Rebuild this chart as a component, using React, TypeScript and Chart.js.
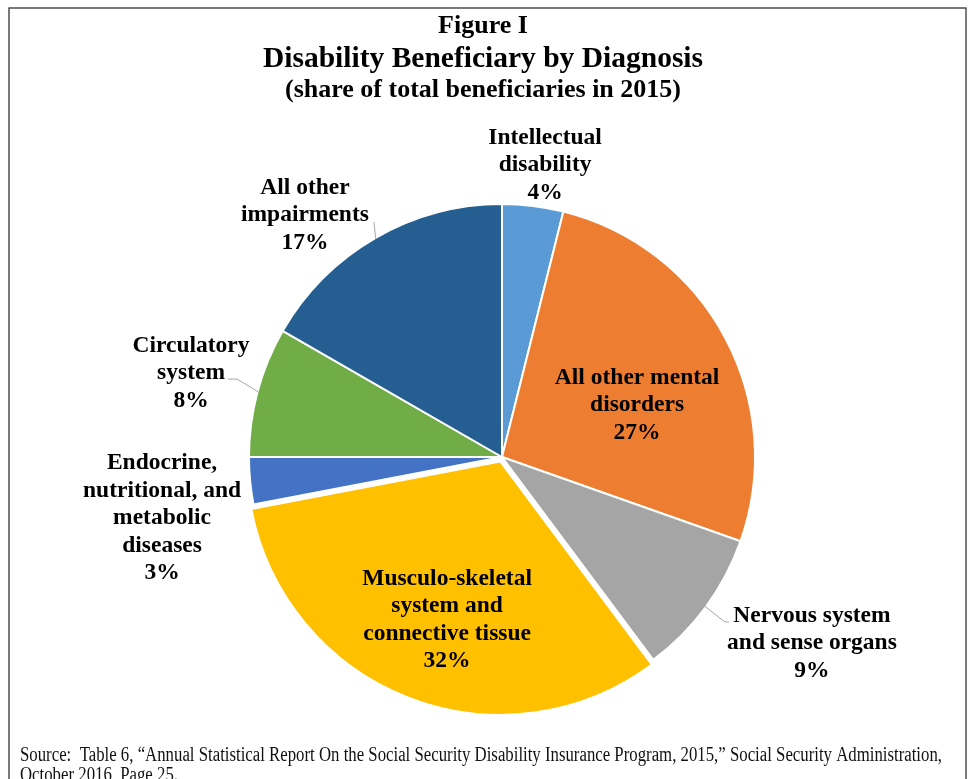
import React, { useEffect, useRef } from "react";
import { Chart, registerables } from "chart.js";

Chart.register(...registerables);

// ---- data ----
const categories = [
  "Intellectual disability",
  "All other mental disorders",
  "Nervous system and sense organs",
  "Musculo-skeletal system and connective tissue",
  "Endocrine, nutritional, and metabolic diseases",
  "Circulatory system",
  "All other impairments",
];
const labelLines = [
  ["Intellectual", "disability"],
  ["All other mental", "disorders"],
  ["Nervous system", "and sense organs"],
  ["Musculo-skeletal", "system and", "connective tissue"],
  ["Endocrine,", "nutritional, and", "metabolic", "diseases"],
  ["Circulatory", "system"],
  ["All other", "impairments"],
];
const shares = [3.9, 26.5, 9.4, 32.2, 3.0, 8.3, 16.7];
const titleLines = [
  "Figure I",
  "Disability Beneficiary by Diagnosis",
  "(share of total beneficiaries in 2015)",
];
const sourceLines = [
  "Source:  Table 6, \u201CAnnual Statistical Report On the Social Security Disability Insurance Program, 2015,\u201D Social Security Administration,",
  "October 2016, Page 25.",
];

// ---- styles / placement ----
const colors = ["#5B9BD5", "#ED7D31", "#A5A5A5", "#FFC000", "#4472C4", "#70AD47", "#255E91"];
const sliceOffsets = [0, 0, 0, 19, 0, 0, 0];
// label block centre relative to pie centre, in units of the radius
const labelPos: number[][] = [
  [0.171, -1.159],
  [0.536, -0.206],
  [1.23, 0.738],
  [-0.218, 0.647],
  [-1.349, 0.242],
  [-1.234, -0.333],
  [-0.782, -0.96],
];
// leader line points (px) relative to label centre, drawn from the slice's mid-angle edge
const leaders: (number[][] | null)[] = [
  null,
  null,
  [[-87, -21], [-83, -21]],
  null,
  null,
  [[46, 6], [37, 6]],
  [[69, 7]],
];

const SERIF = '"Liberation Serif", "Times New Roman", serif';

const overlayPlugin = {
  id: "overlay",
  afterDraw(chart: any) {
    const ctx = chart.ctx as CanvasRenderingContext2D;
    ctx.save();

    // frame
    ctx.strokeStyle = "#333";
    ctx.lineWidth = 1.3;
    ctx.strokeRect(9, 8, 957, 800);

    // titles
    ctx.fillStyle = "#000";
    ctx.textAlign = "center";
    ctx.textBaseline = "alphabetic";
    const tx = 483;
    ctx.font = `bold 26px ${SERIF}`;
    ctx.fillText(titleLines[0], tx, 33);
    ctx.font = `bold 29.5px ${SERIF}`;
    ctx.fillText(titleLines[1], tx, 67);
    ctx.font = `bold 26px ${SERIF}`;
    ctx.fillText(titleLines[2], tx, 97);

    // labels
    const meta = chart.getDatasetMeta(0);
    const lh = 27.5;
    ctx.font = `bold 23.5px ${SERIF}`;
    ctx.textBaseline = "middle";
    meta.data.forEach((arc: any, i: number) => {
      const { x, y, outerRadius, startAngle, endAngle } = arc.getProps(
        ["x", "y", "outerRadius", "startAngle", "endAngle"],
        true
      );
      const R = outerRadius - 1;
      const lx = x + labelPos[i][0] * R;
      const ly = y + labelPos[i][1] * R;
      const lines = [...labelLines[i], `${Math.round(shares[i])}%`];
      const top = ly - ((lines.length - 1) / 2) * lh;
      ctx.fillStyle = "#000";
      lines.forEach((t, k) => ctx.fillText(t, lx, top + k * lh));
      const pts = leaders[i];
      if (pts) {
        const mid = (startAngle + endAngle) / 2;
        ctx.beginPath();
        ctx.strokeStyle = "#A6A6A6";
        ctx.lineWidth = 1;
        ctx.moveTo(x + Math.cos(mid) * R, y + Math.sin(mid) * R);
        pts.forEach((p) => ctx.lineTo(lx + p[0], ly + p[1]));
        ctx.stroke();
      }
    });

    // source
    ctx.fillStyle = "#111";
    ctx.textAlign = "left";
    ctx.textBaseline = "alphabetic";
    ctx.font = `20px ${SERIF}`;
    const w0 = ctx.measureText(sourceLines[0]).width;
    const sx = 922 / w0;
    sourceLines.forEach((t, k) => {
      ctx.save();
      ctx.translate(20, 761 + k * 19.5);
      ctx.scale(sx, 1);
      ctx.fillText(t, 0, 0);
      ctx.restore();
    });
    ctx.restore();
  },
};

export default function App() {
  const ref = useRef<HTMLCanvasElement | null>(null);
  useEffect(() => {
    if (!ref.current) return;
    const chart = new Chart(ref.current, {
      type: "pie",
      data: {
        labels: categories,
        datasets: [
          {
            data: shares,
            backgroundColor: colors,
            borderColor: "#ffffff",
            borderWidth: 2,
            offset: sliceOffsets,
          },
        ],
      },
      options: {
        responsive: false,
        animation: false,
        radius: 253,
        layout: { padding: { left: 40, right: 9, top: 150, bottom: 15 } },
        plugins: {
          legend: { display: false },
          tooltip: { enabled: false },
          title: { display: false },
        },
      } as any,
      plugins: [overlayPlugin],
    });
    return () => chart.destroy();
  }, []);
  return (
    <div
      style={{
        position: "absolute",
        left: 0,
        top: 0,
        width: 973,
        height: 779,
        overflow: "hidden",
        background: "#fff",
      }}
    >
      <canvas ref={ref} width={973} height={779} style={{ display: "block" }} />
    </div>
  );
}
